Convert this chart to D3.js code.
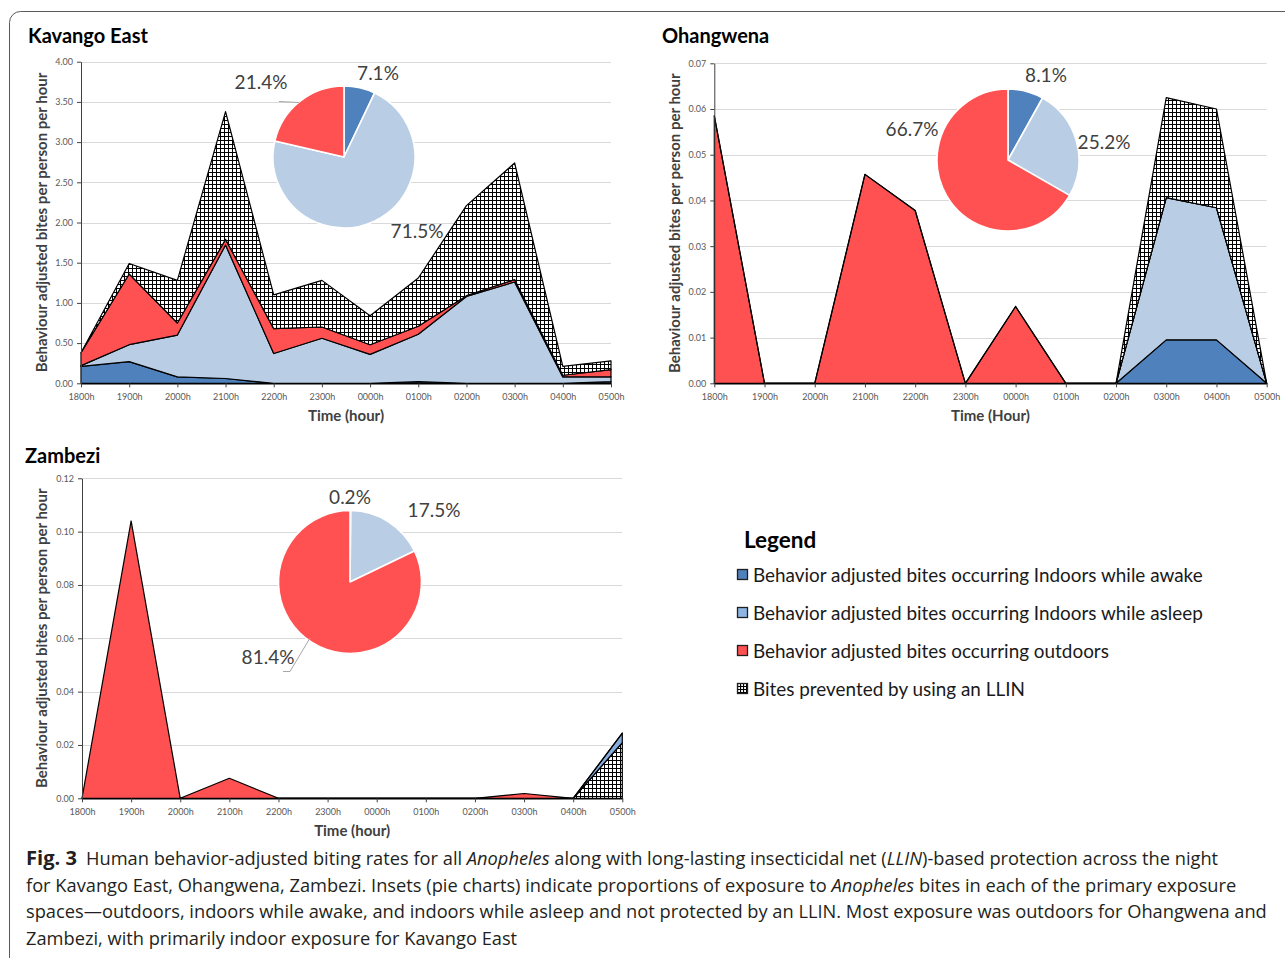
<!DOCTYPE html>
<html>
<head>
<meta charset="utf-8">
<script src="https://cdn.jsdelivr.net/npm/d3@7"></script>
<style>
  html, body { margin: 0; padding: 0; background: #fff; }
  svg { display: block; }
</style>
</head>
<body>
<svg id="fig" width="1285" height="958"></svg>
<script>
// ---- data -------------------------------------------------------------
const hours = ["1800h", "1900h", "2000h", "2100h", "2200h", "2300h",
               "0000h", "0100h", "0200h", "0300h", "0400h", "0500h"];

const seriesNames = {
  awake:   "Behavior adjusted bites occurring Indoors while awake",
  asleep:  "Behavior adjusted bites occurring Indoors while asleep",
  outdoor: "Behavior adjusted bites occurring outdoors",
  llin:    "Bites prevented by using an LLIN"
};

// Kavango East (bites per person per hour)
const kavangoAwake   = [0.21, 0.27, 0.08, 0.06, 0.00, 0.00, 0.00, 0.02, 0.00, 0.00, 0.00, 0.02];
const kavangoAsleep  = [0.01, 0.21, 0.52, 1.66, 0.37, 0.56, 0.36, 0.59, 1.08, 1.26, 0.08, 0.06];
const kavangoOutdoor = [0.16, 0.88, 0.15, 0.07, 0.31, 0.14, 0.12, 0.10, 0.01, 0.03, 0.02, 0.09];
const kavangoLlin    = [0.00, 0.13, 0.53, 1.59, 0.42, 0.58, 0.36, 0.60, 1.12, 1.45, 0.11, 0.11];
const kavangoShares  = [7.1, 71.5, 21.4];   // awake, asleep, outdoor (%)
const kavangoTicks   = [0, 0.5, 1, 1.5, 2, 2.5, 3, 3.5, 4];

// Ohangwena
const ohangwenaAwake   = [0, 0, 0, 0, 0, 0, 0, 0, 0, 0.0095, 0.0095, 0];
const ohangwenaAsleep  = [0, 0, 0, 0, 0, 0, 0, 0, 0, 0.0311, 0.0289, 0];
const ohangwenaOutdoor = [0.0585, 0, 0, 0.0457, 0.0378, 0, 0.0168, 0, 0, 0, 0, 0];
const ohangwenaLlin    = [0, 0, 0, 0, 0, 0, 0, 0, 0, 0.0219, 0.0216, 0];
const ohangwenaShares  = [8.1, 25.2, 66.7];
const ohangwenaTicks   = [0, 0.01, 0.02, 0.03, 0.04, 0.05, 0.06, 0.07];

// Zambezi
const zambeziAwake   = [0, 0, 0, 0, 0, 0, 0, 0, 0, 0, 0, 0];
const zambeziAsleep  = [0, 0, 0, 0, 0, 0, 0, 0, 0, 0, 0, 0.0035];
const zambeziOutdoor = [0, 0.104, 0, 0.0075, 0, 0, 0, 0, 0, 0.0018, 0, 0];
const zambeziLlin    = [0, 0, 0, 0, 0, 0, 0, 0, 0, 0, 0, 0.0209];
const zambeziShares  = [0.2, 17.5, 81.4];
const zambeziTicks   = [0, 0.02, 0.04, 0.06, 0.08, 0.10, 0.12];

// ---- styling ------------------------------------------------------------
const fills = {
  awake: "#4F81BD",
  asleep: "#B9CDE5",
  outdoor: "#FF5151",
  llin: "url(#llinGrid)"
};
const pieFills = ["#4F81BD", "#B9CDE5", "#FF5151"];
const legendFills = ["#4F81BD", "#8DB4E2", "#FF5151", "url(#llinGridSmall)"];
const chartFont = "Lato, 'Open Sans', sans-serif";

const svg = d3.select("#fig");
const defs = svg.append("defs");

// hatched fill used for the LLIN series
const pat = defs.append("pattern")
  .attr("id", "llinGrid").attr("patternUnits", "userSpaceOnUse")
  .attr("width", 4).attr("height", 4);
pat.append("rect").attr("width", 4).attr("height", 4).attr("fill", "#fff");
pat.append("path").attr("d", "M0,0.5H4M0.5,0V4").attr("stroke", "#000").attr("stroke-width", 1);

const pat2 = defs.append("pattern")
  .attr("id", "llinGridSmall").attr("patternUnits", "userSpaceOnUse")
  .attr("width", 3).attr("height", 3);
pat2.append("rect").attr("width", 3).attr("height", 3).attr("fill", "#fff");
pat2.append("path").attr("d", "M0,0.5H3M0.5,0V3").attr("stroke", "#000").attr("stroke-width", 1.2);

// outer frame with rounded corners
svg.append("rect")
  .attr("x", 9.5).attr("y", 11.5).attr("width", 1300).attr("height", 960)
  .attr("rx", 11).attr("fill", "none").attr("stroke", "#5a5a5a").attr("stroke-width", 1);

// ---- panels -------------------------------------------------------------
const panels = [
  {
    title: "Kavango East", titleX: 28, titleY: 43,
    series: { awake: kavangoAwake, asleep: kavangoAsleep, outdoor: kavangoOutdoor, llin: kavangoLlin },
    order: ["awake", "asleep", "outdoor", "llin"],
    fillOverride: {},
    ticks: kavangoTicks, xAxisTitle: "Time (hour)",
    left: 81, right: 611, bottom: 383.3, top: 61.7,
    yTitleX: 47,
    shares: kavangoShares,
    pie: { cx: 344, cy: 157, r: 71 },
    pieLabels: [[378, 80], [417, 238], [261, 89]],
    leader: [[279, 101.5], [299, 102.5]]
  },
  {
    title: "Ohangwena", titleX: 662, titleY: 43,
    series: { awake: ohangwenaAwake, asleep: ohangwenaAsleep, outdoor: ohangwenaOutdoor, llin: ohangwenaLlin },
    order: ["awake", "asleep", "outdoor", "llin"],
    fillOverride: {},
    ticks: ohangwenaTicks, xAxisTitle: "Time (Hour)",
    left: 714.3, right: 1266.7, bottom: 383.3, top: 63.3,
    yTitleX: 680,
    shares: ohangwenaShares,
    pie: { cx: 1008, cy: 160, r: 71 },
    pieLabels: [[1046, 82], [1104, 149], [912, 136]],
    leader: null
  },
  {
    title: "Zambezi", titleX: 25, titleY: 463,
    series: { awake: zambeziAwake, asleep: zambeziAsleep, outdoor: zambeziOutdoor, llin: zambeziLlin },
    order: ["llin", "awake", "asleep", "outdoor"],
    fillOverride: { asleep: "#86ACDD" },
    ticks: zambeziTicks, xAxisTitle: "Time (hour)",
    left: 82, right: 622.3, bottom: 798.3, top: 478.3,
    yTitleX: 47,
    shares: zambeziShares,
    pie: { cx: 350, cy: 582, r: 71.5 },
    pieLabels: [[350, 504], [434, 517], [268, 664]],
    leader: [[283, 671.5], [290, 671.5], [310, 638]]
  }
];

panels.forEach(p => {
  const g = svg.append("g");

  const x = d3.scalePoint().domain(hours).range([p.left, p.right]).padding(0);
  const y = d3.scaleLinear()
    .domain([0, p.ticks[p.ticks.length - 1]])
    .range([p.bottom, p.top]);

  // title
  g.append("text")
    .attr("x", p.titleX).attr("y", p.titleY)
    .attr("font-family", chartFont).attr("font-weight", 700)
    .attr("font-size", 20).attr("fill", "#000")
    .text(p.title);

  // horizontal gridlines
  g.append("g").selectAll("line")
    .data(p.ticks.slice(1))
    .join("line")
    .attr("x1", p.left).attr("x2", p.right)
    .attr("y1", d => Math.round(y(d)) + 0.5).attr("y2", d => Math.round(y(d)) + 0.5)
    .attr("stroke", "#d9d9d9").attr("stroke-width", 1);

  // stacked areas
  const rows = hours.map((h, i) => {
    const r = { hour: h };
    p.order.forEach(k => { r[k] = p.series[k][i]; });
    return r;
  });
  const stacked = d3.stack().keys(p.order)(rows);
  const area = d3.area()
    .x(d => x(d.data.hour))
    .y0(d => y(d[0]))
    .y1(d => y(d[1]));

  g.append("g").selectAll("path")
    .data(stacked)
    .join("path")
    .attr("d", area)
    .attr("fill", d => p.fillOverride[d.key] || fills[d.key])
    .attr("stroke", "#000")
    .attr("stroke-width", 1.2)
    .attr("stroke-linejoin", "round");

  // y axis
  const yAxis = g.append("g")
    .attr("transform", `translate(${p.left},0)`)
    .call(d3.axisLeft(y).tickValues(p.ticks).tickFormat(d3.format(".2f"))
      .tickSize(4).tickSizeOuter(0).tickPadding(4));
  yAxis.select(".domain").attr("stroke", "#404040");
  yAxis.selectAll(".tick line").attr("stroke", "#404040");
  yAxis.selectAll(".tick text")
    .attr("font-family", chartFont).attr("font-size", 9).attr("fill", "#595959");

  // x axis
  const xAxis = g.append("g")
    .attr("transform", `translate(0,${p.bottom})`)
    .call(d3.axisBottom(x).tickSize(4).tickSizeOuter(0).tickPadding(6));
  xAxis.select(".domain").attr("stroke", "#000").attr("stroke-width", 1.2);
  xAxis.selectAll(".tick line").attr("stroke", "#404040");
  xAxis.selectAll(".tick text")
    .attr("font-family", chartFont).attr("font-size", 9).attr("fill", "#595959");

  // axis titles
  g.append("text")
    .attr("x", (p.left + p.right) / 2).attr("y", p.bottom + 38)
    .attr("text-anchor", "middle")
    .attr("font-family", chartFont).attr("font-weight", 700)
    .attr("font-size", 15).attr("fill", "#404040")
    .text(p.xAxisTitle);

  g.append("text")
    .attr("transform", `translate(${p.yTitleX},${(p.top + p.bottom) / 2}) rotate(-90)`)
    .attr("text-anchor", "middle")
    .attr("font-family", chartFont).attr("font-weight", 700)
    .attr("font-size", 15).attr("fill", "#404040")
    .text("Behaviour adjusted bites per person per hour");

  // inset pie of exposure shares
  const pie = d3.pie().sort(null).value(d => d)(p.shares);
  const arc = d3.arc().innerRadius(0).outerRadius(p.pie.r);
  const pg = g.append("g").attr("transform", `translate(${p.pie.cx},${p.pie.cy})`);
  pg.selectAll("path")
    .data(pie)
    .join("path")
    .attr("d", arc)
    .attr("fill", (d, i) => pieFills[i])
    .attr("stroke", "#fff")
    .attr("stroke-width", 1.6)
    .attr("stroke-linejoin", "round");

  if (p.leader) {
    g.append("path")
      .attr("d", d3.line()(p.leader))
      .attr("fill", "none").attr("stroke", "#a6a6a6").attr("stroke-width", 1);
  }

  g.append("g").selectAll("text")
    .data(p.shares)
    .join("text")
    .attr("x", (d, i) => p.pieLabels[i][0])
    .attr("y", (d, i) => p.pieLabels[i][1])
    .attr("text-anchor", "middle")
    .attr("font-family", chartFont).attr("font-size", 19).attr("fill", "#404040")
    .text(d => d3.format(".1f")(d) + "%");
});

// ---- legend -------------------------------------------------------------
const legend = svg.append("g");
legend.append("text")
  .attr("x", 744).attr("y", 548)
  .attr("font-family", chartFont).attr("font-weight", 700)
  .attr("font-size", 22.5).attr("fill", "#000")
  .text("Legend");

const legendKeys = ["awake", "asleep", "outdoor", "llin"];
const legendRows = legend.selectAll("g.item")
  .data(legendKeys)
  .join("g")
  .attr("class", "item")
  .attr("transform", (d, i) => `translate(737,${575 + i * 38})`);
legendRows.append("rect")
  .attr("x", 0.5).attr("y", -5.5).attr("width", 10).attr("height", 10)
  .attr("fill", (d, i) => legendFills[i])
  .attr("stroke", "#1f1f1f").attr("stroke-width", 1.3);
legendRows.append("text")
  .attr("x", 16).attr("y", 6.5)
  .attr("font-family", chartFont).attr("font-size", 18.9).attr("fill", "#1a1a1a")
  .text(d => seriesNames[d]);

// ---- caption ------------------------------------------------------------
const captionLines = [
  [["Fig. 3", "b"], ["\u2002Human behavior-adjusted biting rates for all ", ""], ["Anopheles", "i"],
   [" along with long-lasting insecticidal net (", ""], ["LLIN", "i"], [")-based protection across the night", ""]],
  [["for Kavango East, Ohangwena, Zambezi. Insets (pie charts) indicate proportions of exposure to ", ""],
   ["Anopheles", "i"], [" bites in each of the primary exposure", ""]],
  [["spaces\u2014outdoors, indoors while awake, and indoors while asleep and not protected by an LLIN. Most exposure was outdoors for Ohangwena and", ""]],
  [["Zambezi, with primarily indoor exposure for Kavango East", ""]]
];
const captionFont = "'Open Sans', 'Noto Sans', sans-serif";
const caption = svg.append("g");
const capTexts = captionLines.map((line, li) => {
  const t = caption.append("text")
    .attr("x", 26).attr("y", 865 + li * 26.6)
    .attr("font-family", captionFont).attr("font-size", 18).attr("fill", "#231f20")
    .attr("xml:space", "preserve");
  line.forEach(([s, style]) => {
    t.append("tspan")
      .attr("class", style === "b" ? "lead" : null)
      .attr("font-weight", style === "b" ? 700 : 400)
      .attr("font-style", style === "i" ? "italic" : "normal")
      .text(s);
  });
  return t;
});
// size the caption so the longest plain line spans the caption width
const w0 = capTexts[2].node().getComputedTextLength();
const capSize = 18 * 1242 / w0;
capTexts.forEach(t => t.attr("font-size", capSize));
// the figure label is set a little larger than the body text
caption.selectAll("tspan.lead").attr("font-size", capSize * 1.1);
</script>
</body>
</html>
